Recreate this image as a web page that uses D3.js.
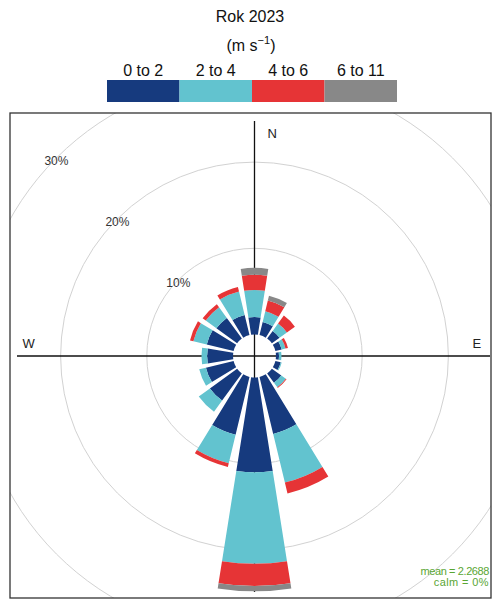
<!DOCTYPE html>
<html><head><meta charset="utf-8">
<script src="https://cdn.jsdelivr.net/npm/d3@7"></script>
<style>body{margin:0;background:#fff}svg{display:block;font-family:"Liberation Sans",Arial,sans-serif}</style>
</head><body><svg id="c" width="494" height="601"></svg>
<script>
// ---- data ----
const directions = ["N","NNE","NE","ENE","E","ESE","SE","SSE","S","SSW","SW","WSW","W","WNW","NW","NNW"];
const dirAngles  = [0,22.5,45,67.5,90,112.5,135,157.5,180,202.5,225,247.5,270,292.5,315,337.5];
const bandLabels = ["0 to 2","2 to 4","4 to 6","6 to 11"];
const bandColors = ["#163a7e","#62c3cf","#e63436","#888888"];
// frequency (%) per direction for each speed band
const ws0to2  = [2.03,1.57,1.10,0.75,0.35,0.64,1.35,6.80,11.0,6.90,3.90,3.30,3.00,3.20,2.97,2.40];
const ws2to4  = [3.14,1.28,1.05,0.45,0.29,0.11,0.65,5.80,10.6,3.40,1.60,0.80,0.66,1.60,1.53,2.80];
const ws4to6  = [1.75,1.28,1.15,0.30,0.00,0.00,0.10,1.30,2.60,0.45,0.00,0.00,0.00,0.40,0.44,0.55];
const ws6to11 = [0.81,0.57,0.00,0.00,0.00,0.00,0.00,0.00,0.60,0.00,0.00,0.00,0.00,0.00,0.00,0.00];
const gridTicks = [10,20,30,40];
const tickLabels = ["10%","20%","30%"];
const compassLabels = ["N","E","S","W"];
const titleText = "Rok 2023";
const meanText = "mean = 2.2688";
const calmText = "calm = 0%";

// ---- layout ----
const svg = d3.select("#c");
const cx = 254.5, cy = 356;
const panel = {x:10, y:113, w:481, h:485};
const r = d3.scaleLinear().domain([0,40]).range([21.5, 21.5+40*8.62]);
const halfW = 9 * Math.PI/180;
const toRad = d => d*Math.PI/180;

// title
svg.append("text").attr("x",250).attr("y",22).attr("text-anchor","middle")
  .attr("font-size",16).attr("fill","#111").text(titleText);
const unit = svg.append("text").attr("x",251).attr("y",51).attr("text-anchor","middle")
  .attr("font-size",16).attr("fill","#111");
unit.append("tspan").text("(m s");
unit.append("tspan").attr("dy",-7).attr("font-size",11).text("\u22121");
unit.append("tspan").attr("dy",7).text(")");

// legend
const lx = d3.scaleBand().domain(bandLabels).range([107,397]).padding(0);
svg.selectAll("rect.leg").data(bandLabels).join("rect").attr("class","leg")
  .attr("x",d=>lx(d)).attr("y",80).attr("width",lx.bandwidth()).attr("height",22)
  .attr("fill",(d,i)=>bandColors[i]);
svg.selectAll("text.leg").data(bandLabels).join("text").attr("class","leg")
  .attr("x",d=>lx(d)+lx.bandwidth()/2).attr("y",76).attr("text-anchor","middle")
  .attr("font-size",16).attr("fill","#111").text(d=>d);

// panel
svg.append("clipPath").attr("id","clip").append("rect")
  .attr("x",panel.x).attr("y",panel.y).attr("width",panel.w).attr("height",panel.h);
const g = svg.append("g").attr("clip-path","url(#clip)");
const gc = g.append("g").attr("transform",`translate(${cx},${cy})`);

// grid circles
gc.selectAll("circle.grid").data(gridTicks).join("circle").attr("class","grid")
  .attr("r",d=>r(d)).attr("fill","none").attr("stroke","#d2d2d2").attr("stroke-width",1);

// axes lines
gc.append("line").attr("x1",-237.5).attr("x2",235.5).attr("y1",0).attr("y2",0)
  .attr("stroke","#111").attr("stroke-width",1.3);
gc.append("line").attr("x1",0).attr("x2",0).attr("y1",-235).attr("y2",236)
  .attr("stroke","#111").attr("stroke-width",1.3);

// compass labels
const compassPos = {N:[13,-218], E:[218,-8], S:[13,227], W:[-232,-8]};
gc.selectAll("text.cmp").data(compassLabels).join("text").attr("class","cmp")
  .attr("x",d=>compassPos[d][0]).attr("y",d=>compassPos[d][1])
  .attr("font-size",13).attr("fill","#222").text(d=>d);

// petals
const series = [ws0to2, ws2to4, ws4to6, ws6to11];
const segs = [];
directions.forEach((dname,i)=>{
  let cum = 0;
  series.forEach((s,b)=>{
    const v = s[i];
    if (v>0) segs.push({dir:dname, angle:dirAngles[i], y0:cum, y1:cum+v, band:b});
    cum += v;
  });
});
const arc = d3.arc()
  .innerRadius(d=>r(d.y0)).outerRadius(d=>r(d.y1))
  .startAngle(d=>toRad(d.angle)-halfW).endAngle(d=>toRad(d.angle)+halfW);
gc.selectAll("path.seg").data(segs).join("path").attr("class","seg")
  .attr("d",arc).attr("fill",d=>bandColors[d.band]);

// grid labels at 315 deg
gc.selectAll("text.pct").data(tickLabels).join("text").attr("class","pct")
  .attr("x",(d,i)=>-r(gridTicks[i])*Math.SQRT1_2)
  .attr("y",(d,i)=>-r(gridTicks[i])*Math.SQRT1_2+7)
  .attr("text-anchor","middle").attr("font-size",12).attr("fill","#333").text(d=>d);

// panel border
svg.append("rect").attr("x",panel.x).attr("y",panel.y).attr("width",panel.w).attr("height",panel.h)
  .attr("fill","none").attr("stroke","#333").attr("stroke-width",1.3);

// stats
svg.append("text").attr("x",489).attr("y",575).attr("text-anchor","end")
  .attr("font-size",11).attr("letter-spacing",-0.4).attr("fill","#5aa634").text(meanText);
svg.append("text").attr("x",489).attr("y",586).attr("text-anchor","end")
  .attr("font-size",11).attr("letter-spacing",0.4).attr("fill","#5aa634").text(calmText);
</script></body></html>
